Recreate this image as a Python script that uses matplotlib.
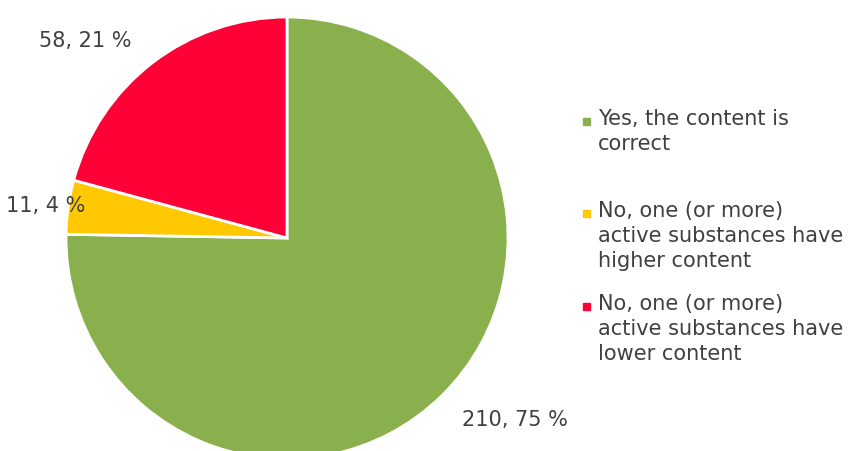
import matplotlib.pyplot as plt
from matplotlib.patches import Rectangle

# Survey answers: counts per category
categories = [
    "Yes, the content is\ncorrect",
    "No, one (or more)\nactive substances have\nhigher content",
    "No, one (or more)\nactive substances have\nlower content",
]
counts = [210, 11, 58]
percents = [75, 4, 21]
colors = ["#8AB04D", "#FFC800", "#FF0037"]

TEXT = "#404040"
FS = 15

fig = plt.figure(figsize=(8.48, 4.52), dpi=100)
W, H = 848, 452

# pie centred at (287, 239) px with radius 221 px; bottom runs off the canvas
cx, cy, r = 287, 239, 221
ax = fig.add_axes([(cx - r) / W, (H - cy - r) / H, 2 * r / W, 2 * r / H])
wedges, _ = ax.pie(counts, colors=colors, startangle=90, counterclock=False,
                   radius=1, wedgeprops=dict(edgecolor="white", linewidth=2))
ax.set_xlim(-1, 1)
ax.set_ylim(-1, 1)
ax.set_aspect("equal")
ax.axis("off")

# value labels placed outside the wedges
label_pos = [(1.03, -0.82), (-1.09, 0.15), (-0.915, 0.895)]
for (x, y), n, p in zip(label_pos, counts, percents):
    ax.text(x, y, f"{n}, {p} %", ha="center", va="center",
            fontsize=FS, color=TEXT, clip_on=False)

# legend drawn by hand so the entries sit in evenly spaced slots
entry_top = [114, 206, 299]
for top, lab, col in zip(entry_top, categories, colors):
    fig.text(598 / W, 1 - (top - 5) / H, lab, ha="left", va="top",
             fontsize=FS, color=TEXT, linespacing=1.3)
    fig.patches.append(Rectangle((583 / W, 1 - (top + 12) / H), 7 / W, 7 / H,
                                 transform=fig.transFigure, color=col))

fig.savefig("out.png", dpi=100)
